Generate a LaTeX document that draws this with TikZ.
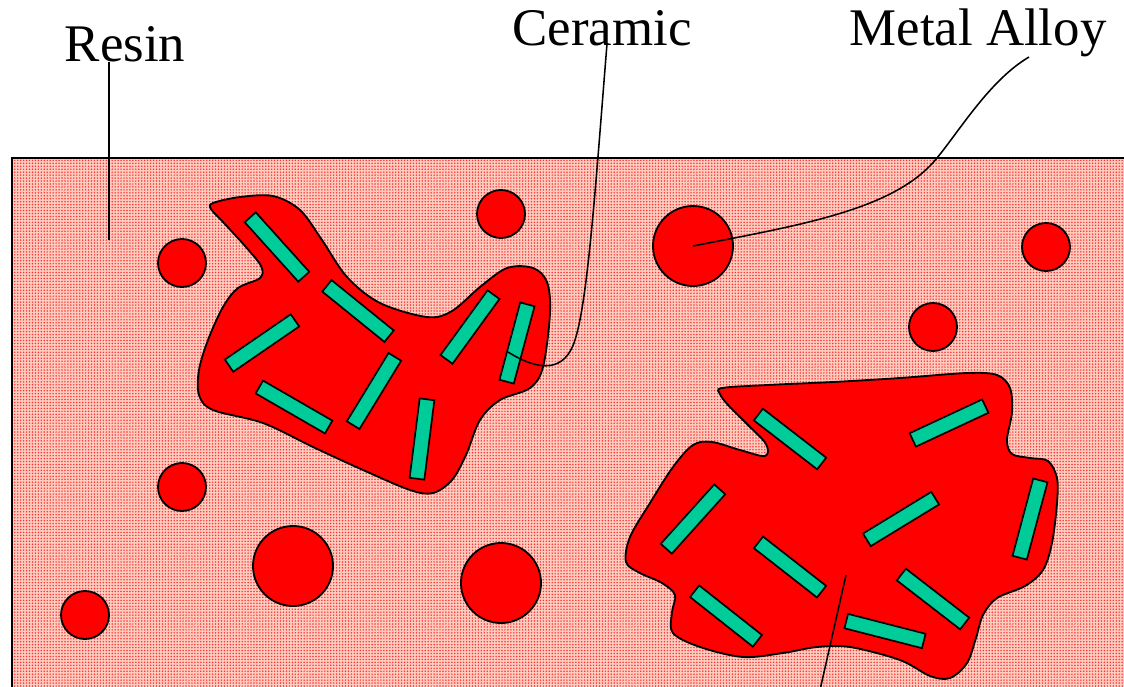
\documentclass[tikz,border=0pt]{standalone}
\usepackage{fontspec}
\setmainfont{Liberation Serif}
\usepackage{tikz}
\usetikzlibrary{calc,patterns.meta}
\definecolor{resinpink}{RGB}{255,205,192}
\definecolor{alloyred}{RGB}{255,0,0}
\definecolor{fibreteal}{RGB}{0,204,153}
\tikzset{
  matrixbox/.style={draw=black, line width=1.1pt, preaction={fill=resinpink},
               pattern={Dots[distance=2.1pt, radius=0.6pt]}, pattern color=alloyred!80},
  grain/.style={draw=black, fill=alloyred, line width=1.3pt},
  particle/.style={circle, draw=black, fill=alloyred, line width=1.3pt, inner sep=0pt},
  fibre/.style={rectangle, draw=black, fill=fibreteal, line width=1.2pt, inner sep=0pt,
               minimum width=2cm, minimum height=0.37cm},
  tag/.style={font=\fontsize{37.6}{45}\selectfont, inner sep=0pt},
  leader/.style={draw=black, line width=1.1pt},
}
\begin{document}
\begin{tikzpicture}[x=0.025cm, y=-0.025cm]
    \useasboundingbox (0,0) rectangle (1124,686);
    % resin matrix
    \draw[matrixbox] (12,158) rectangle (1145,705);
    % metal alloy grains
    \draw[grain] plot[smooth cycle, tension=0.55] coordinates {
      (213,203) (240,197) (273,196) (300,210) (322,240) (347,277) (380,303) (427,317)
      (452,311) (480,287) (507,268) (533,268) (547,282) (550,313) (543,367) (530,388)
      (500,400) (480,420) (466,455) (452,480) (433,493) (410,490) (363,470) (313,447)
      (263,423) (213,410) (199,395) (199,370) (208,340) (223,307) (238,288) (260,278)
      (261,266) (245,246) (223,222) (211,209)};
    \draw[grain] plot[smooth cycle, tension=0.55] coordinates {
      (722,388) (767,385) (833,382) (900,378) (967,373) (997,375) (1010,388) (1012,412)
      (1007,440) (1012,454) (1030,458) (1048,461) (1057,478) (1057,503) (1052,543)
      (1043,570) (1025,586) (997,598) (983,615) (976,638) (967,663) (950,678) (930,676)
      (900,660) (850,647) (817,647) (783,653) (743,657) (700,647) (673,633) (672,612)
      (675,595) (662,583) (640,573) (626,562) (630,537) (650,503) (673,467) (693,445)
      (712,442) (740,450) (765,456) (766,444) (748,425) (728,405) (720,394)};
    % ceramic fibres
    \node[fibre, rotate=-48] (f1) at (277,247) {};
    \node[fibre, rotate=-39] (f2) at (358,311) {};
    \node[fibre, rotate=34.5] (f3) at (262,343) {};
    \node[fibre, rotate=-30] (f4) at (294,407) {};
    \node[fibre, rotate=58.6] (f5) at (374,391) {};
    \node[fibre, rotate=82.8] (f6) at (422,439) {};
    \node[fibre, rotate=54] (f7) at (470,327) {};
    \node[fibre, rotate=75] (f8) at (517,343) {};
    \node[fibre, rotate=-37.7] (f9) at (790,439) {};
    \node[fibre, rotate=25] (f10) at (949,423) {};
    \node[fibre, rotate=48] (f11) at (693,519) {};
    \node[fibre, rotate=-38] (f12) at (790,567) {};
    \node[fibre, rotate=31.4] (f13) at (901,519) {};
    \node[fibre, rotate=75] (f14) at (1030,519) {};
    \node[fibre, rotate=-38.3] (f15) at (726,616) {};
    \node[fibre, rotate=-37.7] (f16) at (933,599) {};
    \node[fibre, rotate=-14.4] (f17) at (885,631) {};
    % free metal particles
    \node[particle, minimum size=1.2cm] (p1) at (182,263) {};
    \node[particle, minimum size=1.2cm] (p2) at (501,214) {};
    \node[particle, minimum size=2cm] (p3) at (693,246) {};
    \node[particle, minimum size=1.2cm] (p4) at (1046,247) {};
    \node[particle, minimum size=1.2cm] (p5) at (933,327) {};
    \node[particle, minimum size=1.2cm] (p6) at (182,487) {};
    \node[particle, minimum size=2cm] (p7) at (293,566) {};
    \node[particle, minimum size=2cm] (p8) at (501,583) {};
    \node[particle, minimum size=1.2cm] (p9) at (85,615) {};
    % labels
    \node[tag, anchor=base] (resin) at (125,61) {Resin};
    \node[tag, anchor=base] (ceramic) at (602,45) {Ceramic};
    \node[tag, anchor=base] (alloy) at (978,45) {Metal Alloy};
    \coordinate (resinend) at (109,240);
    \coordinate (fibreend) at (508,352);
    \coordinate (bottomtop) at (846,575);
    \coordinate (bottomend) at (820,690);
    \draw[leader] (resin.south -| resinend) -- (resinend);
    \draw[leader] ($(ceramic.south)+(5,-2)$) .. controls (596,180) and (588,300) .. (575,340)
      .. controls (565,372) and (540,372) .. (fibreend);
    \draw[leader] ($(alloy.base)+(51,12)$) .. controls (990,80) and (960,130) .. (937,158)
      .. controls (895,210) and (800,225) .. (p3.center);
    \draw[leader] (bottomtop) -- (bottomend);
  \end{tikzpicture}
\end{document}
